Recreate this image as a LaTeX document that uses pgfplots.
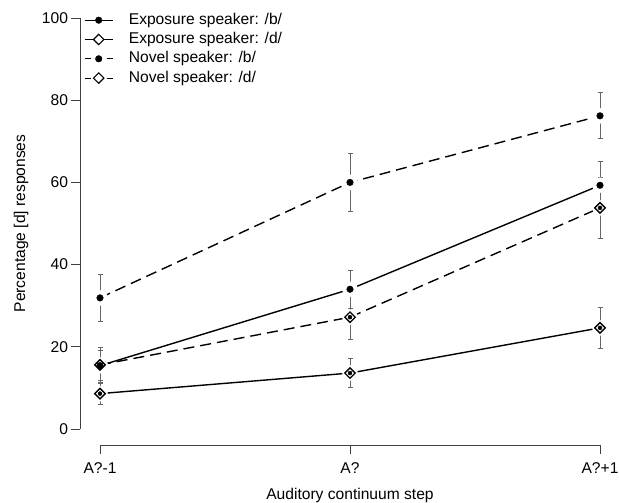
\documentclass[border=0pt]{standalone}
\usepackage{fontspec}
\setmainfont{Liberation Sans}
\usepackage{pgfplots}
\usepackage{pgfplotstable}
\pgfplotsset{compat=1.18}

\pgfplotstableread{
x eb eberr ed ederr nb nberr nd nderr
0 15.4 3.6 8.6 2.6 31.9 5.8 15.6 4.2
1 34.0 4.6 13.6 3.6 60.0 7.0 27.2 5.4
2 59.3 5.8 24.6 5.0 76.2 5.6 53.8 7.4
}\data

\newcommand{\fs}{\fontsize{15.6}{18}\selectfont}
\tikzset{
  serline/.style={black, line width=1.4pt},
  serdash/.style={black, line width=1.4pt, dash pattern=on 11pt off 6pt},
  legline/.style={black, line width=1.0pt},
}
\pgfplotsset{
  gap/.style={only marks, mark=*, mark size=7.5pt, white, forget plot},
  ebar/.style={only marks, mark=none, forget plot,
    error bars/.cd, y dir=both, y explicit,
    error bar style={black!60, line width=0.8pt, solid},
    error mark options={rotate=90, mark size=2.5pt, black!60, line width=0.8pt, solid}},
}

\begin{document}
\begin{tikzpicture}
\begin{axis}[
  scale only axis,
  width=540pt, height=443.8pt,
  at={(80pt,57.6pt)}, anchor=south west,
  xmin=-0.08, xmax=2.08, ymin=-4, ymax=104,
  axis lines=left,
  axis line style={-, black!75, line width=0.8pt},
  x axis line style={shorten <=20pt, shorten >=20pt},
  y axis line style={shorten <=16.44pt, shorten >=16.44pt},
  tick align=outside,
  major tick length=8.5pt,
  tick style={black!75, line width=0.8pt},
  xtick={0,1,2},
  xticklabels={A?-1, A?, A?+1},
  ytick={0,20,40,60,80,100},
  /pgf/number format/assume math mode=true,
  font=\fs,
  tick label style={font=\fs},
  xticklabel style={anchor=base, yshift=-20pt},
  yticklabel style={anchor=east},
  clip=false,
  xlabel={Auditory continuum step},
  ylabel={Percentage [d] responses},
  every axis x label/.style={at={(axis description cs:0.5,-0.1208)}, anchor=base},
  every axis y label/.style={at={(axis description cs:-0.10185,0.5)}, rotate=90, anchor=base},
  legend style={at={(axis description cs:0,1)}, anchor=north west, xshift=4pt, yshift=-8.75pt,
    draw=none, fill=none, inner sep=0pt, font=\fs,
    nodes={font=\fs, text height=11pt, text depth=3pt, inner sep=2.65pt},
    /tikz/every odd column/.append style={column sep=13pt}},
  legend cell align=left,
]
% lines
\addplot[serline, forget plot] table[x=x,y=eb] {\data};
\addplot[serline, forget plot] table[x=x,y=ed] {\data};
\addplot[serdash, forget plot] table[x=x,y=nb] {\data};
\addplot[serdash, forget plot] table[x=x,y=nd] {\data};
% gaps around points
\addplot[gap] table[x=x,y=eb] {\data};
\addplot[gap] table[x=x,y=ed] {\data};
\addplot[gap] table[x=x,y=nb] {\data};
\addplot[gap] table[x=x,y=nd] {\data};
% error bars
\addplot[ebar] table[x=x,y=eb,y error=eberr] {\data};
\addplot[ebar] table[x=x,y=ed,y error=ederr] {\data};
\addplot[ebar] table[x=x,y=nb,y error=nberr] {\data};
\addplot[ebar] table[x=x,y=nd,y error=nderr] {\data};
% marks
\addplot[only marks, mark=*, mark size=3.3pt, black,
  legend image code/.code={
    \draw[legline] (0pt,0pt) -- (28pt,0pt);
    \fill[black] (14pt,0pt) circle (3.3pt);}]
  table[x=x,y=eb] {\data};
\addlegendentry{Exposure speaker: /b/}
\addplot[only marks, mark=square, mark size=3.7pt, black, mark options={rotate=45, line width=1.3pt, solid},
  legend image code/.code={
    \draw[legline] (0pt,0pt) -- (28pt,0pt);
    \draw[black, fill=white, line width=1.1pt] (14pt,5.2pt) -- (19.2pt,0pt) -- (14pt,-5.2pt) -- (8.8pt,0pt) -- cycle;}]
  table[x=x,y=ed] {\data};
\addlegendentry{Exposure speaker: /d/}
\addplot[only marks, mark=*, mark size=3.3pt, black,
  legend image code/.code={
    \draw[legline] (0pt,0pt) -- (6pt,0pt);
    \draw[legline] (22pt,0pt) -- (28pt,0pt);
    \fill[black] (14pt,0pt) circle (3.3pt);}]
  table[x=x,y=nb] {\data};
\addlegendentry{Novel speaker: /b/}
\addplot[only marks, mark=square, mark size=3.7pt, black, mark options={rotate=45, line width=1.3pt, solid},
  legend image code/.code={
    \draw[legline] (0pt,0pt) -- (6pt,0pt);
    \draw[legline] (22pt,0pt) -- (28pt,0pt);
    \draw[black, line width=1.1pt] (14pt,5.2pt) -- (19.2pt,0pt) -- (14pt,-5.2pt) -- (8.8pt,0pt) -- cycle;}]
  table[x=x,y=nd] {\data};
\addlegendentry{Novel speaker: /d/}
\end{axis}
\pgfresetboundingbox
\path[use as bounding box] (0,0) rectangle (619pt,503pt);
\end{tikzpicture}
\end{document}
